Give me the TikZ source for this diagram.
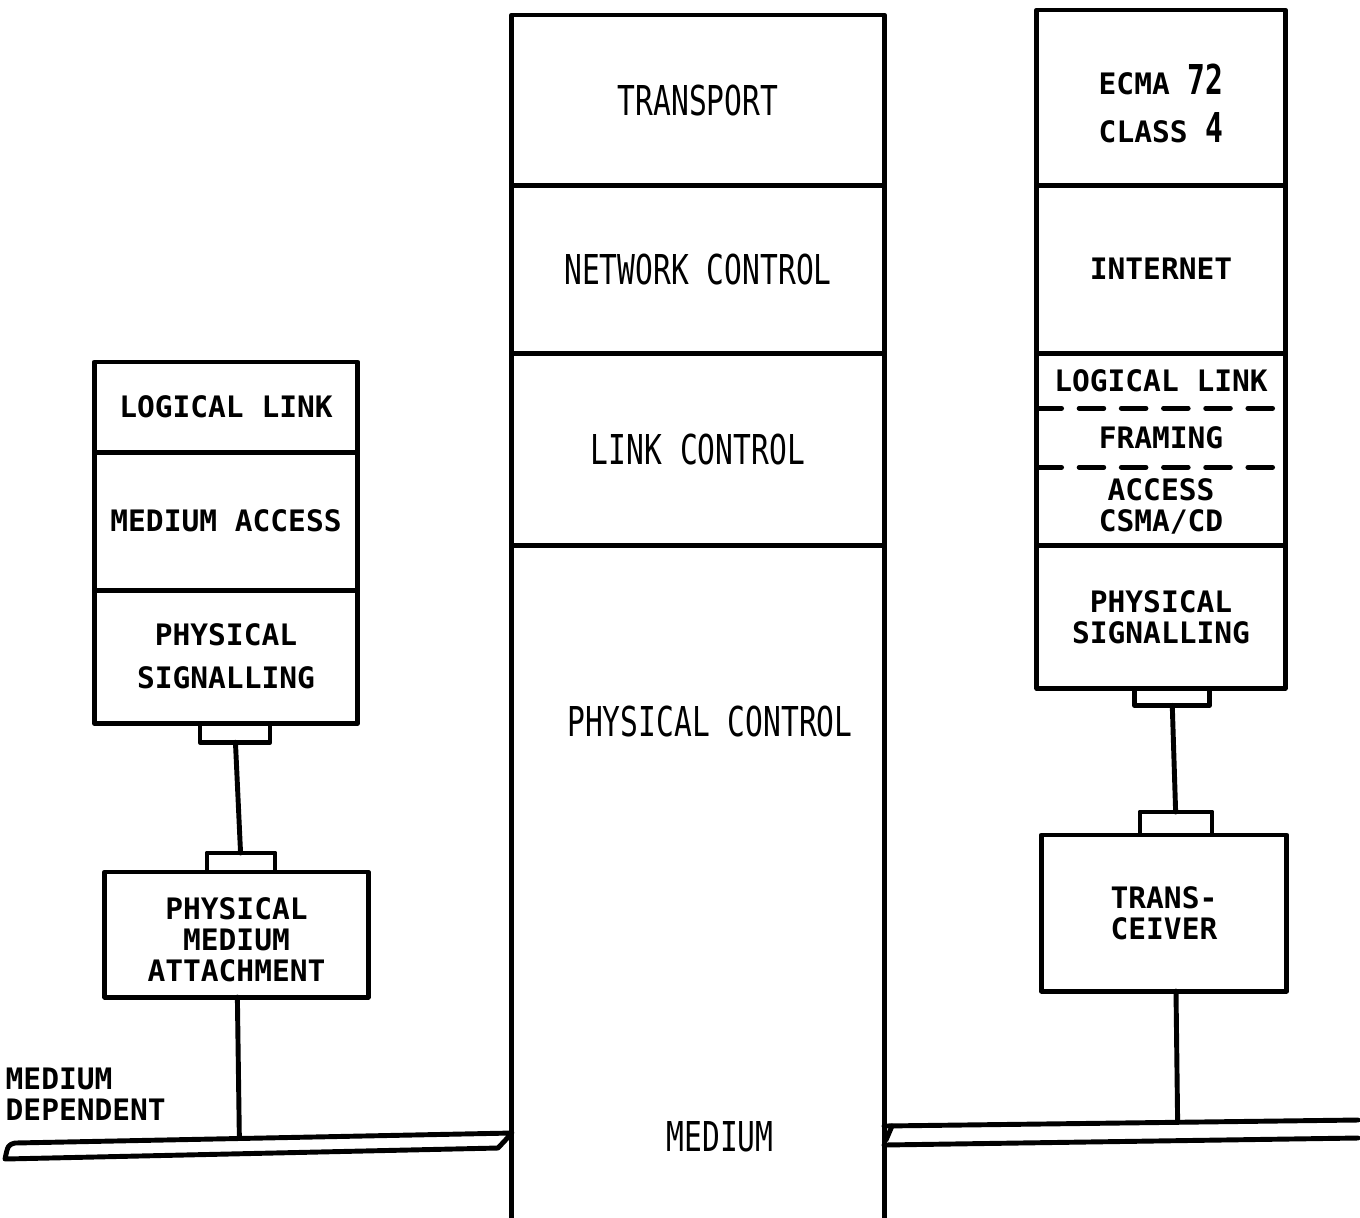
\documentclass[tikz,border=0pt]{standalone}
\usepackage{fontspec}
\newfontfamily\lettermono{DejaVu Sans Mono}
\newfontfamily\tallmono[FakeStretch=0.72]{DejaVu Sans Mono}
\newcommand\smalltype{\lettermono\bfseries\fontsize{8.4}{8.8}\selectfont}
\newcommand\bigtype{\tallmono\fontsize{11.7}{13}\selectfont}
\usetikzlibrary{positioning,calc}
\tikzset{
  layer/.style={draw,line width=1.4pt,inner sep=0pt,outer sep=0pt,align=center,font=\smalltype},
  plug/.style={draw,line width=1.4pt,inner sep=0pt,outer sep=0pt,minimum width=0.7cm,minimum height=0.19cm},
  wire/.style={line width=1.4pt},
  sublayer/.style={dash pattern=on 7pt off 5pt},
}
\begin{document}
\begin{tikzpicture}[x=0.01cm,y=-0.01cm,line join=round,line cap=round]
\useasboundingbox (0,0) rectangle (1360,1217);
% left station
\node[layer,minimum width=2.63cm,minimum height=0.90cm,anchor=north] (lll) at (226,362) {LOGICAL LINK};
\node[layer,minimum width=2.63cm,minimum height=1.38cm,below=0pt of lll] (lma) {MEDIUM ACCESS};
\node[layer,minimum width=2.63cm,minimum height=1.33cm,below=0pt of lma] (lps) {PHYSICAL\\[3.4pt]SIGNALLING};
\node[plug,below=0pt of lps,xshift=0.09cm] (lpa) {};
\node[plug,anchor=south,minimum width=0.68cm] (lpb) at (241,872) {};
\node[layer,minimum width=2.63cm,minimum height=1.25cm,below=0pt of lpb,xshift=-0.045cm] (pma) {\rule{0pt}{9pt}PHYSICAL\\MEDIUM\\ATTACHMENT};
\draw[wire] (lpa) -- (lpb);
% centre column
\node[layer,font=\bigtype,minimum width=3.72cm,minimum height=1.70cm,anchor=north] (trn) at (698,15) {TRANSPORT};
\node[layer,font=\bigtype,minimum width=3.72cm,minimum height=1.68cm,below=0pt of trn] (net) {NETWORK CONTROL};
\node[layer,font=\bigtype,minimum width=3.72cm,minimum height=1.92cm,below=0pt of net] (lnk) {LINK CONTROL};
\draw[wire] (lnk.south west) -- ++(0,672) coordinate (colbl);
\draw[wire] (lnk.south east) -- ++(0,672) coordinate (colbr);
\node[font=\bigtype] (phy) at (710,722) {PHYSICAL CONTROL};
\node[font=\bigtype] (med) at (720,1137) {MEDIUM};
% right station
\node[layer,minimum width=2.48cm,minimum height=1.75cm,anchor=north] (ecma) at (1161,10) {\rule{0pt}{12pt}ECMA {\bigtype 72}\\[5pt]CLASS {\bigtype 4}};
\node[layer,minimum width=2.48cm,minimum height=1.68cm,below=0pt of ecma] (inet) {INTERNET};
\node[layer,draw=none,minimum width=2.48cm,minimum height=0.55cm,below=0pt of inet] (rll) {LOGICAL LINK};
\node[layer,draw=none,minimum width=2.48cm,minimum height=0.59cm,below=0pt of rll] (frm) {FRAMING};
\node[layer,draw=none,minimum width=2.48cm,minimum height=0.78cm,below=0pt of frm] (acc) {ACCESS\\CSMA/CD};
\draw[wire] (rll.north west) rectangle (acc.south east);
\draw[wire,sublayer] (rll.south west) -- (rll.south east);
\draw[wire,sublayer] (frm.south west) -- (frm.south east);
\node[layer,minimum width=2.48cm,minimum height=1.43cm,below=0pt of acc] (rps) {PHYSICAL\\SIGNALLING};
\node[plug,below=0pt of rps,xshift=0.11cm,minimum width=0.75cm,minimum height=0.17cm] (rpa) {};
\node[plug,anchor=south,minimum width=0.72cm,minimum height=0.23cm] (rpb) at (1176,835) {};
\node[layer,minimum width=2.45cm,minimum height=1.56cm,below=0pt of rpb,xshift=-0.12cm] (trx) {TRANS-\\CEIVER};
\draw[wire] (rpa) -- (rpb);
% medium
\coordinate (lba) at (512,1133);
\coordinate (lbb) at (15,1143);
\coordinate (lbc) at (5,1159);
\coordinate (lbd) at (498,1148);
\draw[wire] (lba) -- (lbb) .. controls (8,1145) .. (lbc) -- (lbd) -- cycle;
\draw[wire] (pma) -- ($(lba)!(pma.south)!(lbb)$);
\coordinate (rba) at (884,1126);
\coordinate (rbb) at (1358,1120);
\coordinate (rbc) at (884,1145);
\coordinate (rbd) at (1358,1138);
\draw[wire] (rba) -- (rbb);
\draw[wire] (rbc) -- (rbd);
\draw[wire] (892,1126) -- (886,1140);
\coordinate (trxfoot) at (rpb |- trx.south);
\draw[wire] (trxfoot) -- ($(rba)!(trxfoot)!(rbb)$);
\node[font=\smalltype,align=left,anchor=west,inner sep=0pt] (mdep) at (5,1094) {MEDIUM\\DEPENDENT};
\end{tikzpicture}
\end{document}
